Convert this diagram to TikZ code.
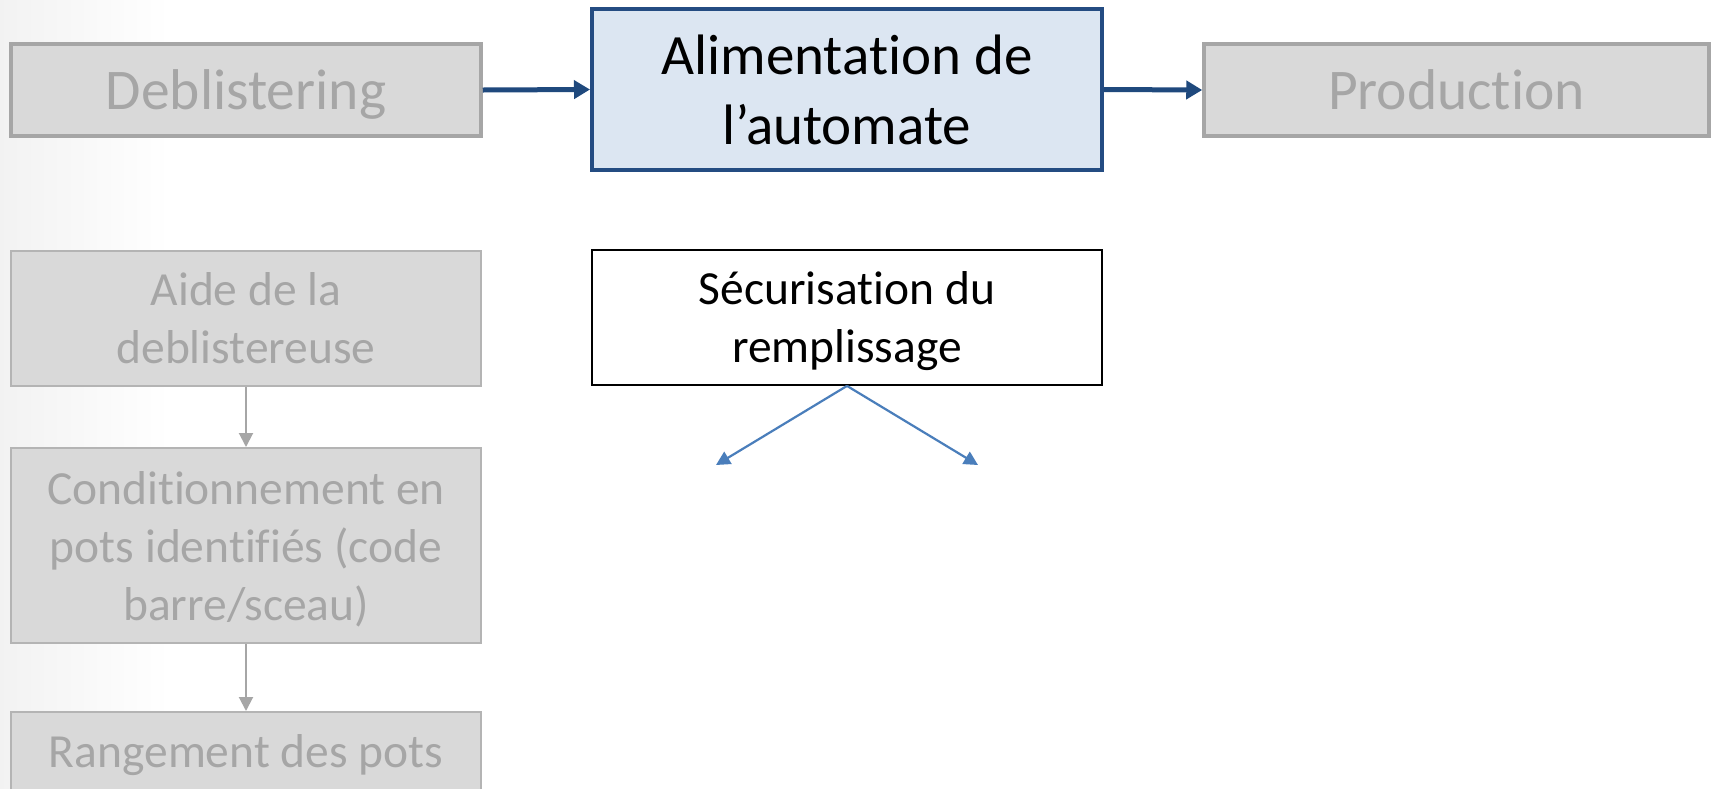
\documentclass[tikz,border=0pt]{standalone}
\usepackage{fontspec}
\setmainfont{Carlito}[Ligatures={NoCommon}]
\usetikzlibrary{arrows.meta}

\definecolor{boxgrey}{HTML}{D9D9D9}
\definecolor{textgrey}{HTML}{A6A6A6}
\definecolor{edgegrey}{HTML}{A6A6A6}
\definecolor{lightedge}{HTML}{B4B4B4}
\definecolor{paleblue}{HTML}{DCE6F2}
\definecolor{navy}{HTML}{244C82}
\definecolor{flowblue}{HTML}{1F497D}
\definecolor{linkblue}{HTML}{4A7EBB}

\tikzset{
  greybig/.style={draw=edgegrey, line width=3.5pt, fill=boxgrey, text=textgrey,
    minimum height=92pt, inner sep=0pt, text depth=0pt,
    font=\fontsize{57.5}{70}\selectfont, align=center},
  greystep/.style={draw=lightedge, line width=2pt, fill=boxgrey, text=textgrey,
    minimum width=470pt, inner sep=0pt, text depth=-3pt,
    font=\fontsize{47.5}{58}\selectfont, align=center},
  mainbox/.style={draw=navy, line width=4pt, fill=paleblue, text=black,
    minimum width=510pt, minimum height=161pt, inner sep=0pt,
    font=\fontsize{57}{70}\selectfont, align=center},
  whitebox/.style={draw=black, line width=1.8pt, fill=white, text=black,
    minimum width=510pt, minimum height=135pt, inner sep=0pt, text depth=0pt,
    font=\fontsize{47.5}{58}\selectfont, align=center},
  flowarrow/.style={draw=flowblue, line width=5pt, -{Triangle[length=16pt,width=18pt]}},
  greyarrow/.style={draw=textgrey, line width=2pt, -{Triangle[length=14pt,width=14pt]}},
  linkarrow/.style={draw=linkblue, line width=2.2pt, -{Triangle[length=14pt,width=14pt]}}
}

\begin{document}
\begin{tikzpicture}[x=1pt, y=-1pt]
  % page and soft left-side shade
  \useasboundingbox (0,0) rectangle (1711,788);
  \fill[white] (0,0) rectangle (1711,788);
  \shade[left color=black!5, right color=white] (0,0) rectangle (170,788);

  % top row
  \node[greybig, minimum width=470pt] (deb) at (246,90) {Deblistering};
  \node[mainbox] (ali) at (847,89.5) {Alimentation de\\l’automate};
  \node[greybig, minimum width=505pt] (prod) at (1456.5,90) {Production};

  \draw[flowarrow] (deb.east) -- (ali.west);
  \draw[flowarrow] (ali.east) -- (prod.west);

  % left column
  \node[greystep, minimum height=135pt] (aide) at (246,318.5) {Aide de la\\deblistereuse};
  \node[greystep, minimum height=195pt] (cond) at (246,545.5) {Conditionnement en\\pots identifiés (code\\barre/sceau)};
  \node[greystep, minimum height=135pt] (rang) at (246,779.5) {Rangement des pots\\\mbox{}};

  \draw[greyarrow] (aide.south) -- (cond.north);
  \draw[greyarrow] (cond.south) -- (rang.north);

  % securing the filling, with its two branches
  \node[whitebox] (secu) at (847,317.5) {Sécurisation du\\remplissage};
  \coordinate (leftend) at (716,465);
  \coordinate (rightend) at (978,465);
  \draw[linkarrow] (secu.south) -- (leftend);
  \draw[linkarrow] (secu.south) -- (rightend);
\end{tikzpicture}
\end{document}
